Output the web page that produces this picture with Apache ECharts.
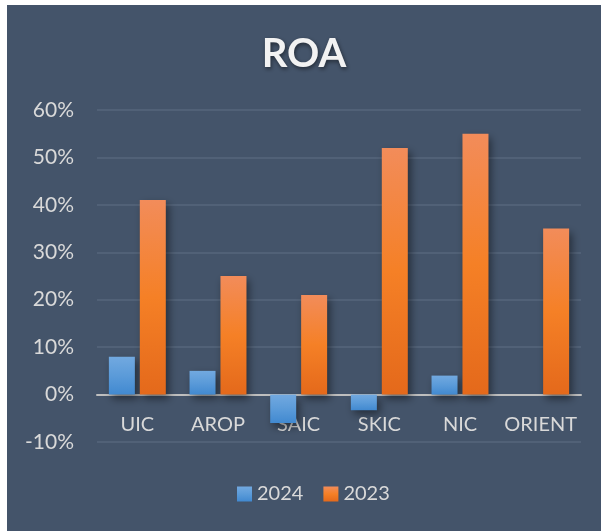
<!DOCTYPE html>
<html><head><meta charset="utf-8">
<script src="https://cdn.jsdelivr.net/npm/echarts@6/dist/echarts.min.js"></script>
<style>html,body{margin:0;padding:0;background:#fff;width:601px;height:531px;overflow:hidden}
#c{position:absolute;left:7px;top:5px;width:594px;height:526px}</style>
</head><body><div id="c"></div>
<script>
const categories = ['UIC','AROP','SAIC','SKIC','NIC','ORIENT'];
const roa2024 = [8, 5, -6, -3.3, 4, 0];
const roa2023 = [41, 25, 21, 52, 55, 35];
const yTicks = {min:-10, max:60, interval:10};

const font = 'Lato, "Open Sans", sans-serif';
const grad = (a,b,c) => new echarts.graphic.LinearGradient(0,0,0,1,[{offset:0,color:a},{offset:0.5,color:b},{offset:1,color:c}]);
const chart = echarts.init(document.getElementById('c'));
chart.setOption({
  backgroundColor:'#44546A',
  animation:false,
  title:{text:'ROA', left:'center', top:24, textStyle:{color:'#f2f2f2', fontSize:40, fontWeight:'bold', fontFamily:font, textShadowColor:'rgba(0,0,0,0.5)', textShadowBlur:4, textShadowOffsetX:1, textShadowOffsetY:2}},
  legend:{bottom:22, left:225, itemWidth:15, itemHeight:15, itemGap:20, icon:'rect',
    textStyle:{color:'#d9d9d9', fontSize:20, fontFamily:font}, data:['2024','2023']},
  grid:{left:90, right:20, top:105, bottom:89},
  xAxis:{type:'category', data:categories, axisTick:{show:false},
    axisLine:{onZero:true, lineStyle:{color:'#bfbfbf', width:2}},
    axisLabel:{color:'#d9d9d9', fontSize:20, fontFamily:font, margin:-27, interval:0}},
  yAxis:{type:'value', min:yTicks.min, max:yTicks.max, interval:yTicks.interval,
    axisLine:{show:false}, axisTick:{show:false},
    axisLabel:{color:'#d9d9d9', fontSize:21, fontFamily:font, margin:23, formatter:v=>v+'%'},
    splitLine:{lineStyle:{color:'#56667d', width:1.5}}},
  series:[
    {name:'2024', type:'bar', data:roa2024, barWidth:26, barGap:'19%',
     itemStyle:{color:grad('#72a9e0','#5b9bd9','#4189d0'), shadowColor:'rgba(0,0,0,0.45)', shadowBlur:8, shadowOffsetX:3, shadowOffsetY:4}},
    {name:'2023', type:'bar', data:roa2023, barWidth:26,
     itemStyle:{color:grad('#f28c5a','#f58026','#e4691b'), shadowColor:'rgba(0,0,0,0.45)', shadowBlur:8, shadowOffsetX:3, shadowOffsetY:4}}
  ]
});
</script></body></html>
